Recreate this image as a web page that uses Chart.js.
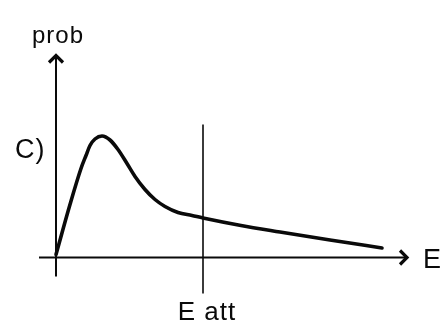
<!DOCTYPE html>
<html lang="fr">

<head>
  <meta charset="UTF-8">
  <title>prob - E</title>
  <style>
    body {
      margin: 0;
      padding: 0;
      background: #fff;
    }

    .chart-container {
      position: relative;
      width: 440px;
      height: 325px;
    }
  </style>
  <script src="https://cdn.jsdelivr.net/npm/chart.js"></script>
</head>

<body>
  <div class="chart-container">
    <canvas id="myChart"></canvas>
  </div>

  <script>
    // courbe (unites arbitraires, origine = croisement des axes)
    const energie = [0, 1.4, 2.5, 3.0, 3.4, 3.9, 4.6, 5.4, 6.2, 7.1, 7.9, 8.9, 9.9, 10.9, 12.2, 13.6, 14.7, 18.5, 22.4, 27.4, 32.6];
    const prob = [0.3, 5.3, 8.9, 10.2, 11.2, 11.85, 12.15, 11.75, 10.8, 9.4, 8.1, 6.8, 5.8, 5.1, 4.5, 4.2, 3.95, 3.2, 2.55, 1.75, 0.95];

    // seuil E att (trait vertical)
    const eAtt = 14.7;
    const eAttBornes = [-3.6, 13.3];

    // etendue des axes (la fleche est au bout)
    const axeE = [-1.7, 35.1];
    const axeProb = [-1.9, 20.2];

    // textes
    const textes = ['prob', 'C)', 'E att', 'E'];

    const couleur = '#0a0a0a';

    // dessine les axes, les fleches et les textes
    const schemaPlugin = {
      id: 'schema',
      beforeDatasetsDraw(chart) {
        const ctx = chart.ctx;
        const sx = chart.scales.x;
        const sy = chart.scales.y;
        const px = v => sx.getPixelForValue(v);
        const py = v => sy.getPixelForValue(v);

        ctx.save();
        ctx.strokeStyle = couleur;
        ctx.lineCap = 'butt';

        // axe des E
        ctx.lineWidth = 2;
        ctx.beginPath();
        ctx.moveTo(px(axeE[0]), py(0));
        ctx.lineTo(px(axeE[1]), py(0));
        ctx.stroke();

        // axe prob
        ctx.beginPath();
        ctx.moveTo(px(0), py(axeProb[0]));
        ctx.lineTo(px(0), py(axeProb[1]));
        ctx.stroke();

        // trait E att
        ctx.lineWidth = 1.6;
        ctx.beginPath();
        ctx.moveTo(px(eAtt), py(eAttBornes[0]));
        ctx.lineTo(px(eAtt), py(eAttBornes[1]));
        ctx.stroke();

        // fleches
        ctx.lineWidth = 3.2;
        ctx.lineJoin = 'miter';
        const tx = px(axeE[1]), ty = py(0);
        ctx.beginPath();
        ctx.moveTo(tx - 7, ty - 7);
        ctx.lineTo(tx, ty);
        ctx.lineTo(tx - 7, ty + 7);
        ctx.stroke();

        const ux = px(0), uy = py(axeProb[1]);
        ctx.beginPath();
        ctx.moveTo(ux - 7, uy + 7);
        ctx.lineTo(ux, uy);
        ctx.lineTo(ux + 7, uy + 7);
        ctx.stroke();
        ctx.restore();
      },
      afterDatasetsDraw(chart) {
        const ctx = chart.ctx;
        const sx = chart.scales.x;
        const sy = chart.scales.y;
        const px = v => sx.getPixelForValue(v);
        const py = v => sy.getPixelForValue(v);

        ctx.save();
        ctx.fillStyle = couleur;
        ctx.textBaseline = 'alphabetic';

        ctx.font = '24px "Liberation Sans", Arial, sans-serif';
        ctx.letterSpacing = '1px';
        ctx.textAlign = 'center';
        ctx.fillText(textes[0], px(0.2), py(21.5));

        ctx.font = '27px "Liberation Sans", Arial, sans-serif';
        ctx.letterSpacing = '1px';
        ctx.textAlign = 'left';
        ctx.fillText(textes[1], px(-4.1), py(9.95));

        ctx.font = '26px "Liberation Sans", Arial, sans-serif';
        ctx.textAlign = 'center';
        ctx.fillText(textes[2], px(15.1), py(-6.25));

        ctx.font = '27px "Liberation Sans", Arial, sans-serif';
        ctx.letterSpacing = '0px';
        ctx.textAlign = 'left';
        ctx.fillText(textes[3], px(36.7), py(-1.05));
        ctx.restore();
      }
    };

    const ctx = document.getElementById('myChart').getContext('2d');
    const myChart = new Chart(ctx, {
      type: 'line',
      data: {
        datasets: [{
          label: 'prob',
          data: energie.map((e, i) => ({ x: e, y: prob[i] })),
          borderColor: couleur,
          borderWidth: 3.6,
          pointRadius: 0,
          fill: false,
          cubicInterpolationMode: 'monotone',
          borderCapStyle: 'round',
          borderJoinStyle: 'round'
        }]
      },
      options: {
        responsive: true,
        maintainAspectRatio: false,
        animation: false,
        layout: { padding: 0 },
        plugins: {
          legend: { display: false },
          tooltip: { enabled: false }
        },
        scales: {
          x: { type: 'linear', min: -5.6, max: 38.4, display: false },
          y: { type: 'linear', min: -6.75, max: 25.75, display: false }
        }
      },
      plugins: [schemaPlugin]
    });
  </script>
</body>

</html>
